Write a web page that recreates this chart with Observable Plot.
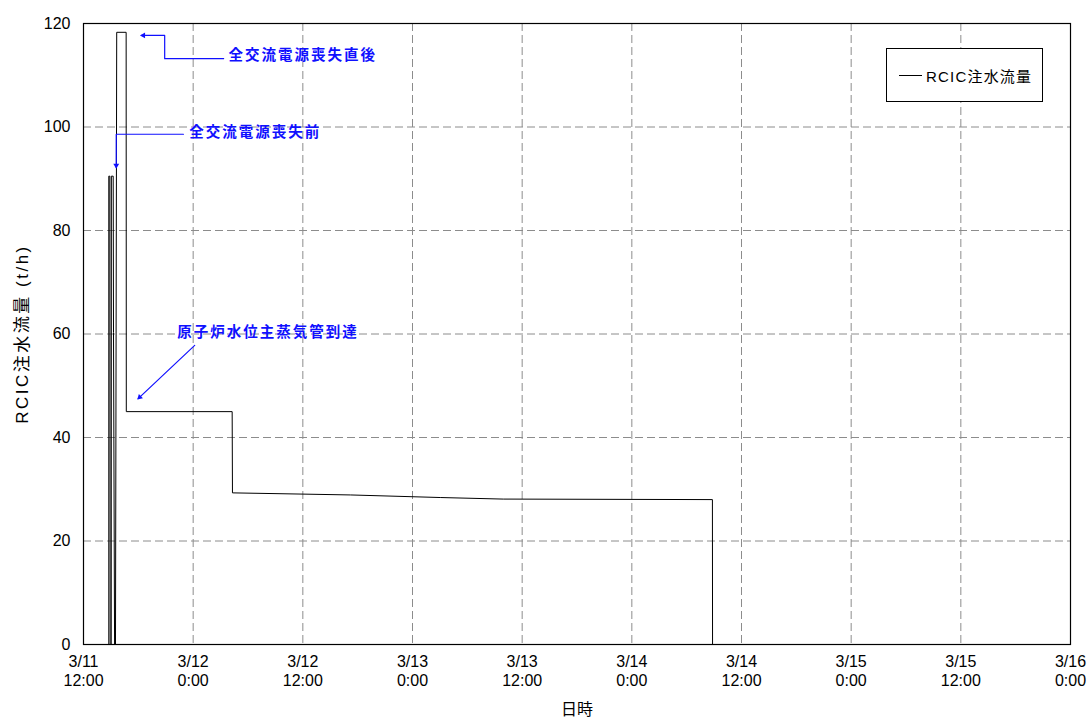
<!DOCTYPE html>
<html>
<head>
<meta charset="utf-8">
<script src="https://cdn.jsdelivr.net/npm/d3@7"></script>
<script src="https://cdn.jsdelivr.net/npm/@observablehq/plot@0.6"></script>
<style>
  body { margin: 0; background: #fff; font-family: "Liberation Sans", "Noto Sans CJK JP", sans-serif; }
  #wrap { position: relative; width: 1088px; height: 722px; }
  #legend { position: absolute; left: 886px; top: 48px; width: 155px; height: 52px; border: 1px solid #000; background: #fff;
            display: flex; align-items: center; font-size: 15px; letter-spacing: 1.2px; color: #000; }
  #legend .sw { display: inline-block; width: 23px; border-top: 1px solid #000; margin-left: 12px; margin-right: 4px; }
</style>
</head>
<body>
<div id="wrap"><div id="legend"><span class="sw"></span><span>RCIC注水流量</span></div></div>
<script>
// ---- data ----
const flowTime = [
  "2011-03-11 12:00", "2011-03-11 14:46", "2011-03-11 14:46", "2011-03-11 14:53", "2011-03-11 14:55",
  "2011-03-11 15:02", "2011-03-11 15:03", "2011-03-11 15:15", "2011-03-11 15:17", "2011-03-11 15:24",
  "2011-03-11 15:30", "2011-03-11 15:38", "2011-03-11 16:40", "2011-03-11 16:41", "2011-03-12 04:16",
  "2011-03-12 04:18", "2011-03-12 17:12", "2011-03-13 03:02", "2011-03-13 09:56", "2011-03-14 08:49",
  "2011-03-14 08:50", "2011-03-16 00:00"
];
const flowValue = [
  0, 0, 90.5, 90.5, 0,
  0, 90.5, 90.5, 60.3, 0,
  0, 118.3, 118.3, 45.0, 45.0,
  29.3, 28.9, 28.4, 28.1, 28.0,
  0, 0
];
const xTicks = [
  "2011-03-11 12:00", "2011-03-12 00:00", "2011-03-12 12:00", "2011-03-13 00:00", "2011-03-13 12:00",
  "2011-03-14 00:00", "2011-03-14 12:00", "2011-03-15 00:00", "2011-03-15 12:00", "2011-03-16 00:00"
];
const yTicks = [0, 20, 40, 60, 80, 100, 120];
const seriesName = "RCIC注水流量";
const xLabel = "日時";
const yLabel = "RCIC注水流量 (t/h)";

// annotations (data coordinates)
const annoText = ["全交流電源喪失直後", "全交流電源喪失前", "原子炉水位主蒸気管到達"];
const annoTextTime = ["2011-03-12 03:52", "2011-03-11 23:35", "2011-03-11 22:15"];
const annoTextValue = [113.8, 98.9, 60.3];
const anno1PathTime = ["2011-03-12 03:20", "2011-03-11 20:53", "2011-03-11 20:53", "2011-03-11 18:20"];
const anno1PathValue = [113.2, 113.2, 117.7, 117.7];
const anno2PathTime = ["2011-03-11 22:56", "2011-03-11 15:35", "2011-03-11 15:35"];
const anno2PathValue = [98.6, 98.6, 92.2];
const anno3PathTime = ["2011-03-12 00:10", "2011-03-11 17:59"];
const anno3PathValue = [57.8, 47.5];

// ---- build ----
const parse = d3.timeParse("%Y-%m-%d %H:%M");
const flow = flowTime.map((t, i) => ({t: parse(t), v: flowValue[i]}));
const xt = xTicks.map(parse);
const fmt = d => `${d.getMonth() + 1}/${d.getDate()}\n${d.getHours()}:${String(d.getMinutes()).padStart(2, "0")}`;
const annos = annoText.map((s, i) => ({s, t: parse(annoTextTime[i]), v: annoTextValue[i]}));
const path = (ts, vs) => ts.map((t, i) => ({t: parse(t), v: vs[i]}));
const p1 = path(anno1PathTime, anno1PathValue);
const p2 = path(anno2PathTime, anno2PathValue);
const p3 = path(anno3PathTime, anno3PathValue);
const blue = "#1010ff";
const head = (p, rot, dx, dy) => Plot.dot([p[p.length - 1]], {x: "t", y: "v", symbol: "triangle2", r: 2.8, fill: blue, stroke: "none", rotate: rot, dx, dy});

const chart = Plot.plot({
  width: 1088, height: 722,
  marginLeft: 83, marginRight: 18, marginTop: 23, marginBottom: 78,
  style: {fontFamily: "'Liberation Sans','Noto Sans CJK JP',sans-serif", fontSize: "16px", color: "#000", background: "#fff"},
  x: {type: "time", domain: [xt[0], xt[xt.length - 1]]},
  y: {domain: [0, 120]},
  marks: [
    Plot.gridX(xt, {stroke: "#8c8c8c", strokeOpacity: 1, strokeDasharray: "8,4"}),
    Plot.gridY(yTicks, {stroke: "#8c8c8c", strokeOpacity: 1, strokeDasharray: "8,4"}),
    Plot.axisX(xt, {tickFormat: fmt, tickSize: 0, tickPadding: 9, lineHeight: 1.2, label: null, fontSize: 16}),
    Plot.axisY(yTicks, {tickSize: 0, tickPadding: 13, label: null, fontSize: 16}),
    Plot.line(flow, {x: "t", y: "v", stroke: "#000", strokeWidth: 1, curve: "linear"}),
    Plot.frame({stroke: "#000", strokeWidth: 1.2}),
    Plot.line(p1, {x: "t", y: "v", stroke: blue, strokeWidth: 1.2}),
    Plot.line(p2, {x: "t", y: "v", stroke: blue, strokeWidth: 1.2}),
    Plot.line(p3, {x: "t", y: "v", stroke: blue, strokeWidth: 1.2}),
    head(p1, -90, 2, 0),
    head(p2, 180, 0, -2),
    head(p3, 226.7, 1.5, -1.5),
    Plot.text(annos, {x: "t", y: "v", text: "s", textAnchor: "start", fill: blue, fontSize: 14.5, fontWeight: "bold"}),
    Plot.text([xLabel], {text: d => d, frameAnchor: "bottom", dy: 70, textAnchor: "middle", fontSize: 16}),
    Plot.text([yLabel], {text: d => d, frameAnchor: "left", dx: -61, textAnchor: "middle", rotate: -90, fontSize: 17})
  ]
});
// letter spacing to match the wide glyph advance of the original
d3.select(chart).selectAll("text").each(function () {
  const s = this.textContent;
  if (annoText.includes(s)) this.setAttribute("letter-spacing", "2");
  if (s === yLabel) this.setAttribute("letter-spacing", "2.5");
});
document.getElementById("wrap").prepend(chart);
</script>
</body>
</html>
